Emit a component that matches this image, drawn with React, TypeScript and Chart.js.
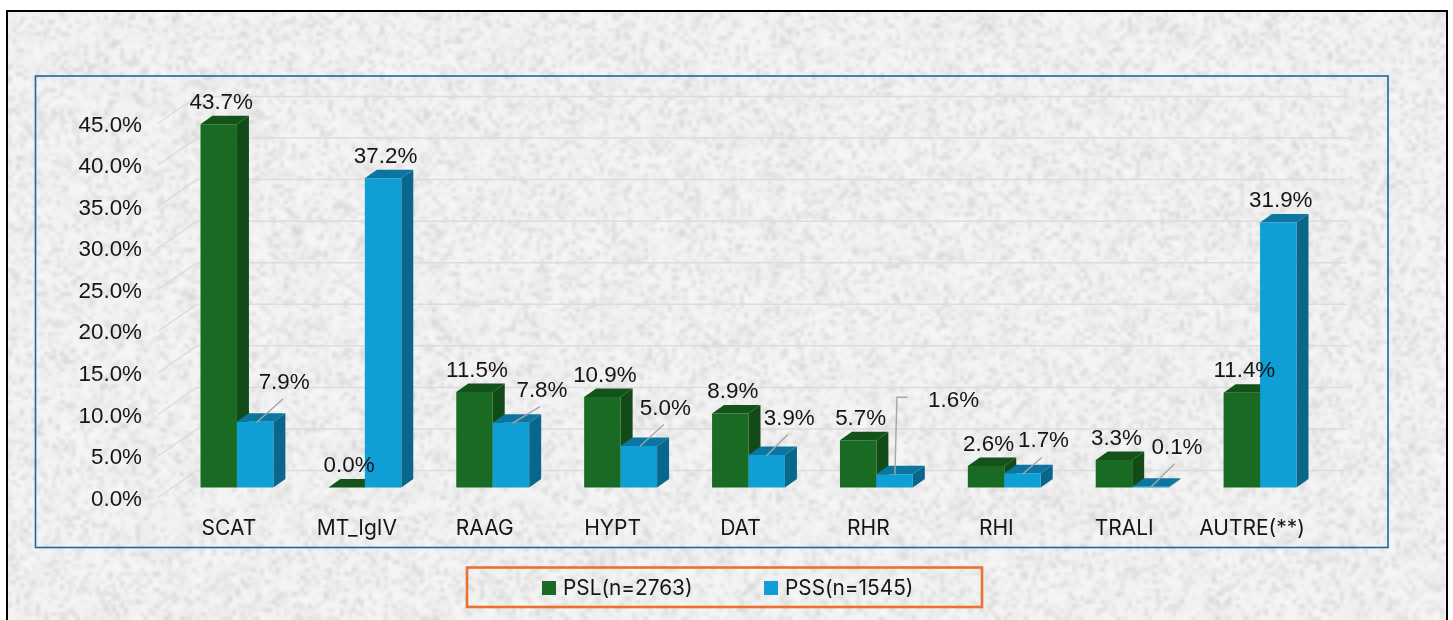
import React, { useEffect, useRef } from "react";
import { Chart, registerables } from "chart.js";

Chart.register(...registerables);

const categories = ["SCAT", "MT_IgIV", "RAAG", "HYPT", "DAT", "RHR", "RHI", "TRALI", "AUTRE(**)"];
const psl = [43.7, 0.0, 11.5, 10.9, 8.9, 5.7, 2.6, 3.3, 11.4];
const pss = [7.9, 37.2, 7.8, 5.0, 3.9, 1.6, 1.7, 0.1, 31.9];
const seriesNames = ["PSL(n=2763)", "PSS(n=1545)"];

const W = 1453;
const H = 620;
const NUM_FAMILY = '"Liberation Sans", Arial, sans-serif';
const CAT_FAMILY = "Inter, sans-serif";
const INK = "#151515";
const DEPTH_X = 12;
const DEPTH_Y = 8.5;
const FLOOR_SHIFT = 10;

const faces = [
  { front: "#196B24", side: "#124A18", top: "#135319" },
  { front: "#0F9ED5", side: "#0A678C", top: "#0C76A1" },
];

// label offsets from the bar's front top centre; null means the default spot
const pslLabelOffset = [2.5, -21.5];
const pssLabelOffsets: (number[] | null)[] = [
  [29, -39], null, [31, -31.5], [26.5, -37], [22.5, -36], [59, -73], [21, -32.5], [26.6, -38.5], null,
];
const pssLeaders: (number[][] | null)[] = [
  [[28, -23], [1.4, 0.6]],
  null,
  [[29, -16], [1.7, 0.5]],
  [[25, -21.5], [1, 0.2]],
  [[21, -20.6], [0, 0.4]],
  [[12.8, -77], [2.3, -77], [0.3, 0.3]],
  [[19.5, -16.2], [0.5, 0.4]],
  [[24.2, -22.9], [0.3, 0.5]],
  null,
];

let texture: HTMLCanvasElement | null = null;

function makeTexture(): HTMLCanvasElement {
  const out = document.createElement("canvas");
  out.width = W;
  out.height = H;
  const g = out.getContext("2d")!;
  g.fillStyle = "#F1F1F1";
  g.fillRect(0, 0, W, H);
  let seed = 918273;
  const next = () => {
    seed = (seed * 1664525 + 1013904223) >>> 0;
    return seed / 4294967296;
  };
  const layer = (cell: number, alpha: number, lo: number, hi: number) => {
    const c = document.createElement("canvas");
    c.width = Math.ceil(W / cell);
    c.height = Math.ceil(H / cell);
    const cg = c.getContext("2d")!;
    const img = cg.createImageData(c.width, c.height);
    for (let i = 0; i < img.data.length; i += 4) {
      const r = next();
      const v = lo + (hi - lo) * r * r * r;
      img.data[i] = img.data[i + 1] = img.data[i + 2] = 255 - v;
      img.data[i + 3] = 255;
    }
    cg.putImageData(img, 0, 0);
    g.globalAlpha = alpha;
    g.imageSmoothingEnabled = true;
    g.imageSmoothingQuality = "high";
    g.drawImage(c, 0, 0, c.width * cell, c.height * cell);
  };
  layer(10, 0.5, 8, 44);
  layer(4, 0.5, 8, 56);
  g.globalAlpha = 1;
  return out;
}

function poly(ctx: CanvasRenderingContext2D, pts: number[][], fill: string) {
  ctx.beginPath();
  pts.forEach((p, i) => (i ? ctx.lineTo(p[0], p[1]) : ctx.moveTo(p[0], p[1])));
  ctx.closePath();
  ctx.fillStyle = fill;
  ctx.fill();
}

const box3d = {
  id: "box3d",
  beforeDraw(chart: any) {
    const { ctx, chartArea, scales } = chart;
    if (!texture) texture = makeTexture();
    ctx.save();
    ctx.fillStyle = "#FFFFFF";
    ctx.fillRect(0, 0, W, H);
    ctx.drawImage(texture, 7, 11, 1440, 609, 7, 11, 1440, 609);

    // outer frame
    ctx.strokeStyle = "#000000";
    ctx.lineWidth = 2;
    ctx.beginPath();
    ctx.moveTo(7, H);
    ctx.lineTo(7, 11);
    ctx.lineTo(1447, 11);
    ctx.lineTo(1447, H);
    ctx.stroke();

    // chart frame
    ctx.strokeStyle = "#1B6A94";
    ctx.lineWidth = 1.6;
    ctx.strokeRect(35.5, 76, 1352.5, 471.5);

    // legend frame
    ctx.strokeStyle = "#E97132";
    ctx.lineWidth = 2.6;
    ctx.strokeRect(467, 567.5, 515, 39.5);

    // 3D walls: side wall diagonals and back wall rules
    ctx.strokeStyle = "#DCDCDC";
    ctx.lineWidth = 1.5;
    scales.y.ticks.forEach((t: any) => {
      const y = scales.y.getPixelForValue(t.value);
      ctx.beginPath();
      ctx.moveTo(chartArea.left - 15, y);
      ctx.lineTo(chartArea.left + 24, y - 27);
      ctx.lineTo(chartArea.right + 23, y - 27);
      ctx.stroke();
    });
    ctx.restore();
  },
  beforeDatasetsDraw(chart: any) {
    const { ctx } = chart;
    [0, 1].forEach((ds) => {
      const meta = chart.getDatasetMeta(ds);
      meta.data.forEach((el: any) => {
        const left = el.x - el.width / 2;
        const right = el.x + el.width / 2;
        const top = el.y - FLOOR_SHIFT;
        const base = el.base - FLOOR_SHIFT;
        poly(ctx, [[right, top], [right + DEPTH_X, top - DEPTH_Y], [right + DEPTH_X, base - DEPTH_Y], [right, base]], faces[ds].side);
        poly(ctx, [[left, top], [left + DEPTH_X, top - DEPTH_Y], [right + DEPTH_X, top - DEPTH_Y], [right, top]], faces[ds].top);
        ctx.save();
        ctx.translate(0, -FLOOR_SHIFT);
        el.draw(ctx);
        ctx.restore();
      });
    });
    return false;
  },
  afterDraw(chart: any) {
    const { ctx } = chart;
    ctx.save();
    // leader lines
    ctx.strokeStyle = "#A6A6A6";
    ctx.lineWidth = 1.4;
    chart.getDatasetMeta(1).data.forEach((el: any, i: number) => {
      const pts = pssLeaders[i];
      if (!pts) return;
      const top = el.y - FLOOR_SHIFT;
      ctx.beginPath();
      pts.forEach((p, k) => (k ? ctx.lineTo(el.x + p[0], top + p[1]) : ctx.moveTo(el.x + p[0], top + p[1])));
      ctx.stroke();
    });
    // data labels
    ctx.font = `22.4px ${NUM_FAMILY}`;
    ctx.fillStyle = INK;
    ctx.textAlign = "center";
    ctx.textBaseline = "middle";
    chart.data.datasets.forEach((d: any, ds: number) => {
      chart.getDatasetMeta(ds).data.forEach((el: any, i: number) => {
        const off = (ds === 1 && pssLabelOffsets[i]) || pslLabelOffset;
        ctx.fillText(d.data[i].toFixed(1) + "%", el.x + off[0], el.y - FLOOR_SHIFT + off[1]);
      });
    });
    // legend
    ctx.font = `20.8px ${CAT_FAMILY}`;
    ctx.textAlign = "left";
    const legendX = [542, 764];
    chart.data.datasets.forEach((d: any, ds: number) => {
      ctx.fillStyle = d.backgroundColor;
      ctx.fillRect(legendX[ds], 581, 14, 14);
      ctx.fillStyle = INK;
      ctx.fillText(d.label, legendX[ds] + 21, 588.5);
    });
    ctx.restore();
  },
};

export default function App() {
  const ref = useRef<HTMLCanvasElement | null>(null);
  useEffect(() => {
    if (!ref.current) return;
    const chart: any = new Chart(ref.current, {
      type: "bar",
      data: {
        labels: categories,
        datasets: [
          { label: seriesNames[0], data: psl, backgroundColor: faces[0].front },
          { label: seriesNames[1], data: pss, backgroundColor: faces[1].front },
        ],
      },
      options: {
        animation: false,
        responsive: false,
        devicePixelRatio: 1,
        layout: { padding: { top: 123.5, right: 129, bottom: 0, left: 0 } },
        datasets: { bar: { categoryPercentage: 0.57, barPercentage: 1 } },
        plugins: { legend: { display: false }, tooltip: { enabled: false } },
        scales: {
          x: {
            afterFit: (s: any) => { s.height = 122.5; },
            grid: { display: false },
            border: { display: false },
            ticks: {
              font: { family: CAT_FAMILY, size: 21 },
              color: INK,
              padding: 11,
              labelOffset: -8,
              autoSkip: false,
              maxRotation: 0,
            },
          },
          y: {
            min: 0,
            max: 45,
            afterFit: (s: any) => { s.width = 173; },
            grid: { display: false },
            border: { display: false },
            ticks: {
              stepSize: 5,
              padding: 23,
              labelOffset: 2,
              color: INK,
              font: { family: NUM_FAMILY, size: 22.4 },
              callback: (v: any) => Number(v).toFixed(1) + "%",
            },
          },
        },
      },
      plugins: [box3d],
    } as any);
    return () => chart.destroy();
  }, []);

  return (
    <div style={{ position: "absolute", left: 0, top: 0, width: W, height: H }}>
      <canvas ref={ref} width={W} height={H} style={{ display: "block", width: W, height: H }} />
    </div>
  );
}
